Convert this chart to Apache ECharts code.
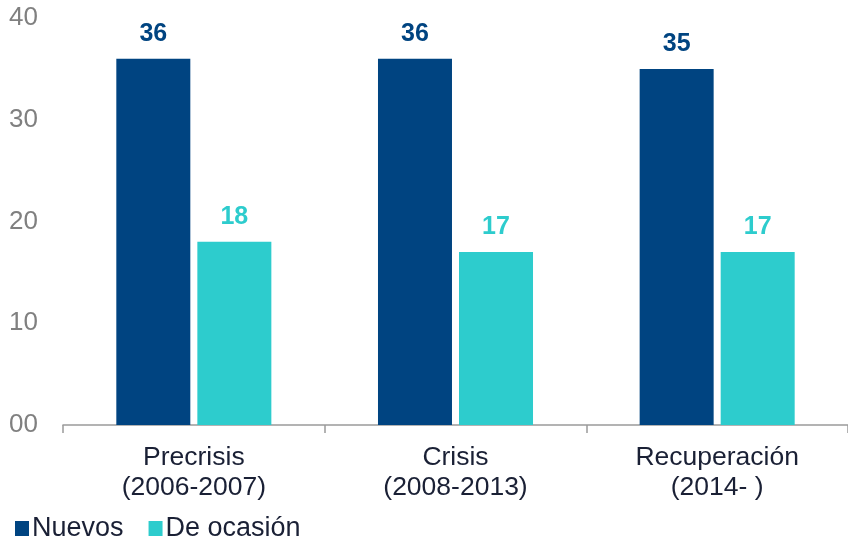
<!DOCTYPE html>
<html>
<head>
<meta charset="utf-8">
<script src="https://cdn.jsdelivr.net/npm/echarts@6/dist/echarts.min.js"></script>
<style>
  html, body { margin: 0; padding: 0; background: #ffffff; }
  #chart { width: 848px; height: 537px; }
</style>
</head>
<body>
<div id="chart"></div>
<script>
// Periods on the x axis
const categories = ['Precrisis\n(2006-2007)', 'Crisis\n(2008-2013)', 'Recuperación\n(2014- )'];
// Series values
const nuevos = [36, 36, 35];
const deOcasion = [18, 17, 17];
// Y axis ticks
const yMin = 0;
const yMax = 40;
const yStep = 10;

const NAVY = '#004481';
const AQUA = '#2DCCCD';
const TEXT = '#1a2035';
const FONT = '"Liberation Sans", Arial, sans-serif';

const chart = echarts.init(document.getElementById('chart'), null, { renderer: 'canvas' });

chart.setOption({
  animation: false,
  backgroundColor: '#ffffff',
  textStyle: { fontFamily: FONT },
  grid: { left: 63, top: 18, width: 790, height: 407, containLabel: false },
  legend: {
    left: 10,
    top: 510,
    icon: 'rect',
    itemWidth: 14,
    itemHeight: 15,
    itemGap: 25,
    textStyle: { fontSize: 27, color: TEXT, fontFamily: FONT, padding: [0, 0, 0, -2] },
    data: ['Nuevos', 'De ocasión']
  },
  xAxis: {
    type: 'category',
    data: categories,
    axisLine: { lineStyle: { color: '#9a9a9a', width: 1.5 } },
    axisTick: { show: true, length: 8, lineStyle: { color: '#9a9a9a', width: 1.5 } },
    axisLabel: {
      fontSize: 26.5,
      color: TEXT,
      lineHeight: 30,
      margin: 18,
      fontFamily: FONT,
      interval: 0
    }
  },
  yAxis: {
    type: 'value',
    min: yMin,
    max: yMax,
    interval: yStep,
    axisLine: { show: false },
    axisTick: { show: false },
    splitLine: { show: false },
    axisLabel: {
      fontSize: 26,
      color: '#808080',
      margin: 25,
      fontFamily: FONT,
      formatter: v => (v < 10 ? '0' + v : String(v))
    }
  },
  series: [
    {
      name: 'Nuevos',
      type: 'bar',
      data: nuevos,
      barWidth: 74,
      barGap: '9.5%',
      itemStyle: { color: NAVY },
      label: {
        show: true,
        position: 'top',
        distance: 12,
        fontSize: 25,
        fontWeight: 'bold',
        color: NAVY,
        fontFamily: FONT,
        formatter: p => Math.round(p.value)
      }
    },
    {
      name: 'De ocasión',
      type: 'bar',
      data: deOcasion,
      barWidth: 74,
      itemStyle: { color: AQUA },
      label: {
        show: true,
        position: 'top',
        distance: 12,
        fontSize: 25,
        fontWeight: 'bold',
        color: AQUA,
        fontFamily: FONT,
        formatter: p => Math.round(p.value)
      }
    }
  ]
});
</script>
</body>
</html>
